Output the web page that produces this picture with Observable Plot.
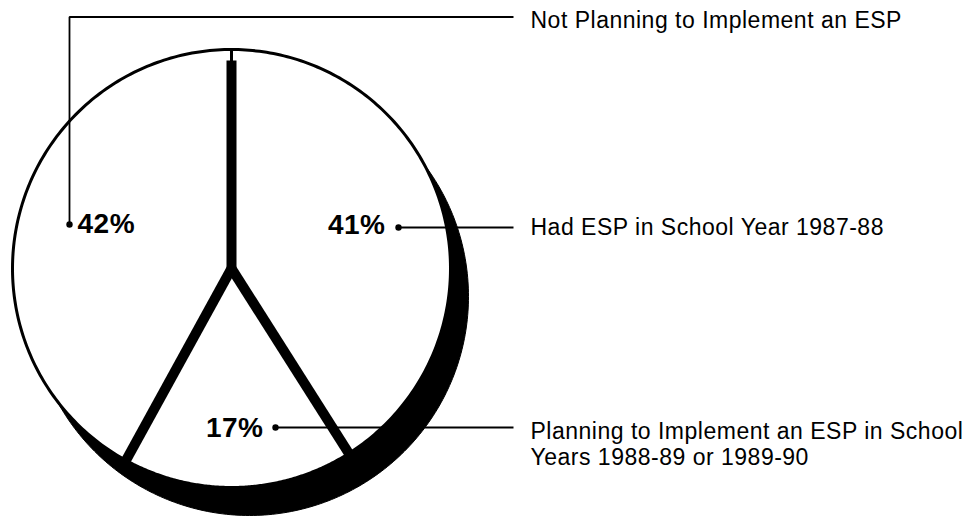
<!DOCTYPE html>
<html>
<head>
<meta charset="utf-8">
<script src="https://cdn.jsdelivr.net/npm/d3@7"></script>
<script src="https://cdn.jsdelivr.net/npm/@observablehq/plot@0.6"></script>
<style>
  html, body { margin: 0; padding: 0; background: #fff; }
  #chart svg { display: block; }
  #chart svg text { letter-spacing: 0.5px; }
</style>
</head>
<body>
<div id="chart"></div>
<script>
// ---- data ----
const categories = [
  "Had ESP in School Year 1987-88",
  "Planning to Implement an ESP in School Years 1988-89 or 1989-90",
  "Not Planning to Implement an ESP"
];
const shares = [41, 17, 42];
const pctLabels = ["41%", "17%", "42%"];
const legendLines = [
  ["Had ESP in School Year 1987-88"],
  ["Planning to Implement an ESP in School", "Years 1988-89 or 1989-90"],
  ["Not Planning to Implement an ESP"]
];

// ---- layout (chart units: pie centre at 0,0, 1 unit = 1 px, y up) ----
const R = 219;
const shadowOffset = {dx: 18, dy: -28};
const pctPos = [ {x: 154, y: 43, anchor: "end"}, {x: 32, y: -160, anchor: "end"}, {x: -154, y: 44, anchor: "start"} ];
const dotPos = [ {x: 167, y: 41}, {x: 44, y: -159}, {x: -162, y: 44} ];
const elbowY = [null, null, 251.5];
const leaderEndX = 282;
const legendX = 299;
const legendY = [40.5, -163, 248];
const legendLineStep = 26;

// ---- geometry from data ----
const arcs = d3.pie().sort(null).value(d => d)(shares);
const pt = (a, r) => ({x: r * Math.sin(a), y: r * Math.cos(a)});

const slicePts = arcs.flatMap((a, i) => {
  const n = 160, pts = [{i, x: 0, y: 0}];
  for (let k = 0; k <= n; k++) {
    const t = a.startAngle + (a.endAngle - a.startAngle) * k / n;
    pts.push({i, ...pt(t, R)});
  }
  pts.push({i, x: 0, y: 0});
  return pts;
});

const shadowPts = d3.range(0, 361).map(k => {
  const p = pt(k * Math.PI / 180, R);
  return {x: p.x + shadowOffset.dx, y: p.y + shadowOffset.dy};
});

const separators = arcs.map((a, i) => ({a: a.startAngle, r: i === 0 ? R - 11 : R}));

const leaderPts = categories.flatMap((c, i) => {
  const d = dotPos[i];
  const pts = [{i, x: d.x, y: d.y}];
  if (elbowY[i] != null) pts.push({i, x: d.x, y: elbowY[i]}, {i, x: leaderEndX, y: elbowY[i]});
  else pts.push({i, x: leaderEndX, y: d.y});
  return pts;
});

const pctData = pctLabels.map((t, i) => ({t, ...pctPos[i]}));
const legendData = legendLines.flatMap((lines, i) =>
  lines.map((t, j) => ({t, x: legendX, y: legendY[i] - j * legendLineStep})));

const chart = Plot.plot({
  width: 965,
  height: 516,
  margin: 0,
  x: {domain: [-231, 734], axis: null},
  y: {domain: [-248, 268], axis: null},
  style: {background: "white", fontFamily: "'Liberation Sans', Arial, sans-serif"},
  marks: [
    Plot.line(shadowPts, {x: "x", y: "y", fill: "black", stroke: "black", strokeWidth: 1}),
    Plot.line(slicePts, {x: "x", y: "y", z: "i", fill: "white", stroke: "black", strokeWidth: 3, strokeLinejoin: "round"}),
    Plot.link(separators, {
      x1: () => 0, y1: () => 0,
      x2: d => pt(d.a, d.r).x, y2: d => pt(d.a, d.r).y,
      stroke: "black", strokeWidth: 10, strokeLinecap: "butt"
    }),
    Plot.line(leaderPts, {x: "x", y: "y", z: "i", stroke: "black", strokeWidth: 1.8, strokeLinejoin: "miter", strokeLinecap: "butt"}),
    Plot.dot(dotPos, {x: "x", y: "y", r: 3.2, fill: "black", stroke: null}),
    Plot.text(pctData.filter(d => d.anchor === "end"), {x: "x", y: "y", text: "t", textAnchor: "end", fontSize: 28, fontWeight: "bold", fill: "black", lineAnchor: "middle"}),
    Plot.text(pctData.filter(d => d.anchor === "start"), {x: "x", y: "y", text: "t", textAnchor: "start", fontSize: 28, fontWeight: "bold", fill: "black", lineAnchor: "middle"}),
    Plot.text(legendData, {x: "x", y: "y", text: "t", textAnchor: "start", fontSize: 23, fill: "black", lineAnchor: "middle"})
  ]
});
document.getElementById("chart").appendChild(chart);
</script>
</body>
</html>
